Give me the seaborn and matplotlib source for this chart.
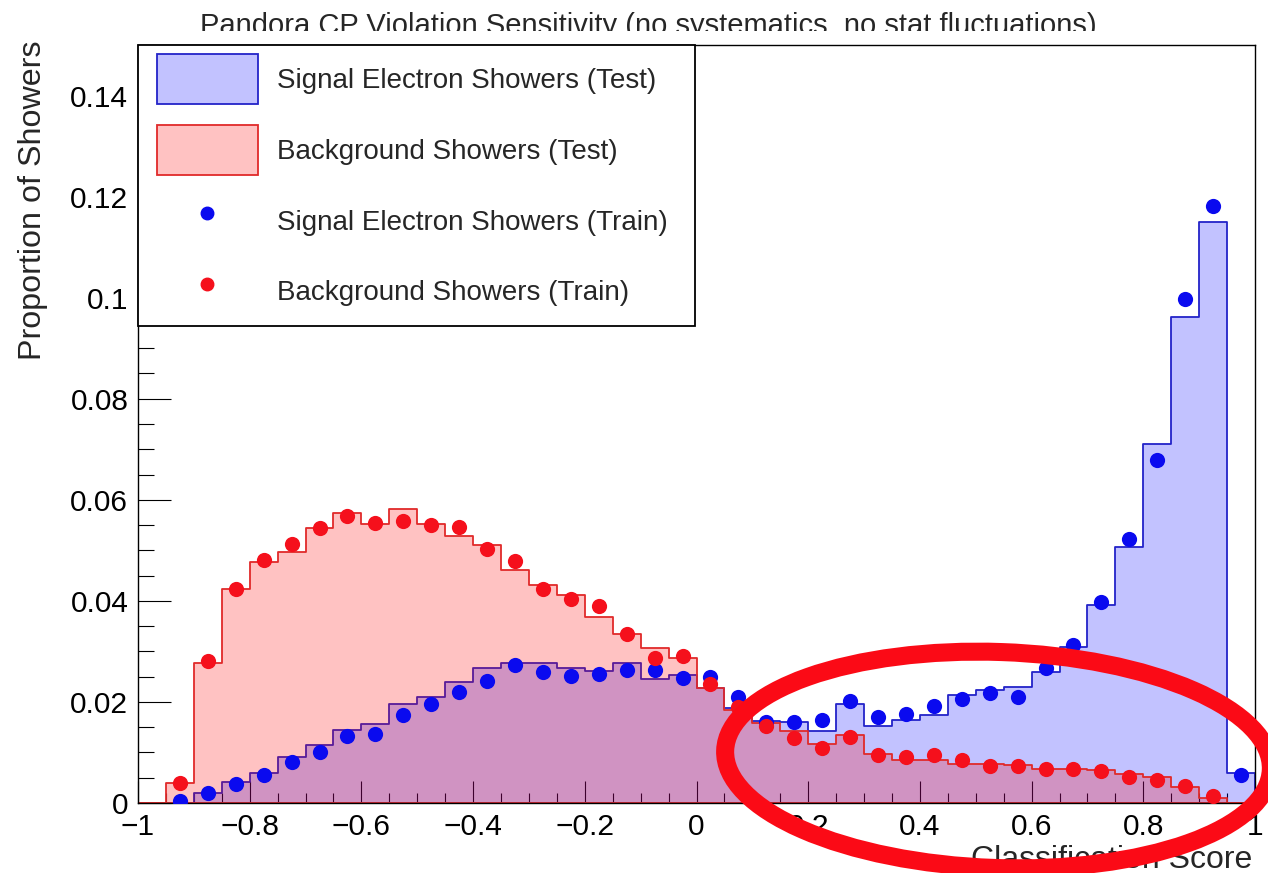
import numpy as np
import pandas as pd
import matplotlib
matplotlib.use("Agg")
import matplotlib.pyplot as plt
import seaborn as sns
from matplotlib.patches import Patch, Ellipse
from matplotlib.lines import Line2D
from matplotlib.legend_handler import HandlerPatch, HandlerLine2D
from matplotlib.ticker import MultipleLocator, FixedLocator, FixedFormatter
from matplotlib.transforms import Bbox, TransformedBbox, IdentityTransform

# ---- data: 40 bins of classification score from -1 to 1 ----
score_edges = [round(v, 3) for v in np.linspace(-1.0, 1.0, 41)]
score_centers = [round((a + b) / 2, 3) for a, b in zip(score_edges[:-1], score_edges[1:])]

signal_test = [
    0.0, 0.0, 0.0019, 0.0041, 0.0059, 0.0092, 0.0115, 0.0144, 0.0156, 0.0196,
    0.0209, 0.0239, 0.0268, 0.0277, 0.0277, 0.0268, 0.0261, 0.0277, 0.0245, 0.0254,
    0.0227, 0.0188, 0.0163, 0.0161, 0.0143, 0.0195, 0.0152, 0.0164, 0.0174, 0.0214,
    0.0223, 0.0229, 0.0260, 0.0309, 0.0392, 0.0507, 0.0710, 0.0962, 0.1149, 0.0060,
]
background_test = [
    0.0, 0.0040, 0.0277, 0.0424, 0.0477, 0.0497, 0.0544, 0.0573, 0.0553, 0.0581,
    0.0553, 0.0529, 0.0510, 0.0461, 0.0432, 0.0411, 0.0368, 0.0334, 0.0306, 0.0287,
    0.0227, 0.0184, 0.0158, 0.0143, 0.0116, 0.0134, 0.0097, 0.0086, 0.0086, 0.0078,
    0.0077, 0.0075, 0.0068, 0.0067, 0.0065, 0.0057, 0.0051, 0.0031, 0.0009, 0.0,
]
signal_train = [
    np.nan, 0.0003, 0.0019, 0.0038, 0.0055, 0.0082, 0.0100, 0.0132, 0.0136, 0.0175,
    0.0195, 0.0219, 0.0242, 0.0273, 0.0260, 0.0251, 0.0256, 0.0263, 0.0263, 0.0247,
    0.0250, 0.0210, 0.0160, 0.0160, 0.0165, 0.0202, 0.0171, 0.0177, 0.0192, 0.0205,
    0.0218, 0.0210, 0.0267, 0.0313, 0.0397, 0.0522, 0.0679, 0.0997, 0.1181, 0.0055,
]
background_train = [
    np.nan, 0.0040, 0.0281, 0.0423, 0.0481, 0.0512, 0.0544, 0.0568, 0.0554, 0.0558,
    0.0551, 0.0546, 0.0502, 0.0479, 0.0423, 0.0403, 0.0390, 0.0334, 0.0286, 0.0291,
    0.0236, 0.0190, 0.0152, 0.0129, 0.0108, 0.0130, 0.0095, 0.0092, 0.0095, 0.0085,
    0.0074, 0.0073, 0.0068, 0.0067, 0.0063, 0.0051, 0.0045, 0.0033, 0.0014, np.nan,
]

legend_labels = [
    "Signal Electron Showers (Test)",
    "Background Showers (Test)",
    "Signal Electron Showers (Train)",
    "Background Showers (Train)",
]
x_tick_values = [-1, -0.8, -0.6, -0.4, -0.2, 0, 0.2, 0.4, 0.6, 0.8, 1]
x_tick_labels = ["\u22121", "\u22120.8", "\u22120.6", "\u22120.4", "\u22120.2",
                 "0", "0.2", "0.4", "0.6", "0.8", "1"]
y_tick_values = [0, 0.02, 0.04, 0.06, 0.08, 0.10, 0.12, 0.14]
y_tick_labels = ["0", "0.02", "0.04", "0.06", "0.08", "0.1", "0.12", "0.14"]

title_text = "Pandora CP Violation Sensitivity (no systematics, no stat fluctuations)"
x_title = "Classification Score"
y_title = "Proportion of Showers"

# ---- style ----
sns.set_theme(style="ticks")
plt.rcParams["font.family"] = ["Liberation Sans", "DejaVu Sans"]
plt.rcParams["axes.edgecolor"] = "black"
plt.rcParams["xtick.color"] = "black"
plt.rcParams["ytick.color"] = "black"

BLUE_FILL = (0.0, 0.0, 1.0, 0.24)
RED_FILL = (1.0, 0.0, 0.0, 0.24)
BLUE_LINE = "#2323c8"
RED_LINE = "#e02a2a"
BLUE_PT = "#0a0aef"
RED_PT = "#f5101c"

W, H = 1268, 873
fig = plt.figure(figsize=(W / 100, H / 100), dpi=100)
ax = fig.add_axes([138 / W, 1 - 803 / H, (1255 - 138) / W, (803 - 45) / H])

test_df = pd.DataFrame({
    "score": score_centers,
    "signal": signal_test,
    "background": background_test,
})
train_df = pd.DataFrame({
    "score": score_centers,
    "signal": signal_train,
    "background": background_train,
})

# test histograms: filled steps
sns.histplot(data=test_df, x="score", weights="signal", bins=score_edges,
             element="step", fill=True, facecolor=BLUE_FILL, edgecolor=BLUE_LINE,
             linewidth=1.3, ax=ax)
sns.histplot(data=test_df, x="score", weights="background", bins=score_edges,
             element="step", fill=True, facecolor=RED_FILL, edgecolor=RED_LINE,
             linewidth=1.3, ax=ax)

# train distributions: markers at bin centres
sns.scatterplot(data=train_df, x="score", y="signal", color=BLUE_PT, s=120,
                linewidth=0, ax=ax, zorder=3)
sns.scatterplot(data=train_df, x="score", y="background", color=RED_PT, s=120,
                linewidth=0, ax=ax, zorder=4)

ax.set_xlim(-1, 1)
ax.set_ylim(0, 0.15)
ax.set_xlabel("")
ax.set_ylabel("")

ax.xaxis.set_major_locator(FixedLocator(x_tick_values))
ax.xaxis.set_major_formatter(FixedFormatter(x_tick_labels))
ax.xaxis.set_minor_locator(MultipleLocator(0.05))
ax.yaxis.set_major_locator(FixedLocator(y_tick_values))
ax.yaxis.set_major_formatter(FixedFormatter(y_tick_labels))
ax.yaxis.set_minor_locator(MultipleLocator(0.005))

ax.tick_params(axis="both", which="both", direction="in", top=False, right=False,
               width=0.8, labelsize=21.5)
ax.tick_params(axis="y", which="major", length=23.5, pad=7)
ax.tick_params(axis="y", which="minor", length=11.5)
ax.tick_params(axis="x", which="major", length=16, pad=7.5)
ax.tick_params(axis="x", which="minor", length=7.5)

for sp in ax.spines.values():
    sp.set_visible(True)
    sp.set_color("black")
    sp.set_linewidth(1.0)

# legend (fixed-width box in the upper-left corner of the frame)
handles = [
    Patch(facecolor=BLUE_FILL, edgecolor=BLUE_LINE, linewidth=1.3),
    Patch(facecolor=RED_FILL, edgecolor=RED_LINE, linewidth=1.3),
    Line2D([], [], marker="o", linestyle="", color=BLUE_PT, markersize=9),
    Line2D([], [], marker="o", linestyle="", color=RED_PT, markersize=9),
]
leg_width = (695 - 138) / (1255 - 138)
leg = ax.legend(handles, legend_labels, loc="upper left",
                bbox_to_anchor=(0, 1, leg_width, 0), mode="expand",
                borderaxespad=0, fontsize=20, handlelength=3.97, handleheight=2.39,
                labelspacing=0.75, handletextpad=0.68, borderpad=0.34,
                frameon=True, fancybox=False, framealpha=1, edgecolor="black",
                handler_map={Patch: HandlerPatch(xpad=0.34),
                             Line2D: HandlerLine2D(xpad=0.34)})
leg.get_frame().set_linewidth(1.3)
leg.set_zorder(6)

# axis titles (ROOT-style, aligned to the axis ends)
fig.text(1252 / W, 1 - 868 / H, x_title, ha="right", va="baseline", fontsize=23)
fig.text(41 / W, 1 - 40 / H, y_title, rotation=90, rotation_mode="anchor",
         ha="right", va="baseline", fontsize=23.2)

# title, cut off just below its x-height
title = fig.text(648 / W, 1 - 34 / H, title_text, ha="center", va="baseline",
                 fontsize=21)
title.set_clip_box(TransformedBbox(Bbox([[0, 1 - 31 / H], [1, 1]]), fig.transFigure))
title.set_clip_on(True)

# highlight ring around the high-score region (pixel coordinates)
fig.add_artist(Ellipse((998, H - 760), 546, 216, angle=-2.0,
                       transform=IdentityTransform(), fill=False,
                       edgecolor="#fb0a16", linewidth=13, zorder=10))

fig.savefig("out.png", dpi=100)
